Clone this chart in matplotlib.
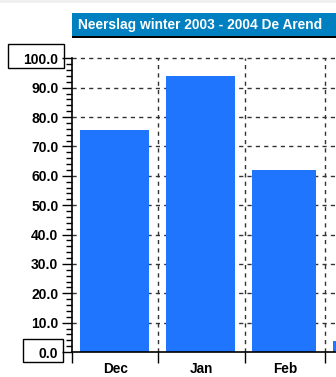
import matplotlib
matplotlib.use("Agg")
import matplotlib.pyplot as plt
from matplotlib.patches import Rectangle

plt.rcParams['font.family'] = ['Liberation Sans', 'DejaVu Sans']

# data
months = ["Dec", "Jan", "Feb", "Mar"]
days = [31, 31, 29, 31]
rain = [75.6, 94.1, 62.0, 3.7]
title = "Neerslag winter 2003 - 2004 De Arend"

W, H = 336, 377
fig = plt.figure(figsize=(W / 100, H / 100), dpi=100)


def fx(px):
    return px / W


def fy(py):
    return 1 - py / H


ax = fig.add_axes([fx(72.3), fy(352), 1 - fx(72.3), (352 - 58.3) / H])

starts = [sum(days[:i]) for i in range(len(days))]
for s, d, v in zip(starts, days, rain):
    ax.bar(s + 2.8, v, width=d - 6.2, align='edge', color='#1f75fe', zorder=2)

ax.set_yticks(range(0, 101, 10))
ax.set_yticklabels([f"{v:.1f}" for v in range(0, 101, 10)])
ax.set_yticks(range(0, 101, 2), minor=True)
ax.tick_params(axis='y', which='major', length=7, width=1, pad=3,
               labelsize=10, color='black')
ax.tick_params(axis='y', which='minor', length=4, width=1, color='black')

edges = starts + [starts[-1] + days[-1]]
ax.set_xticks(edges[:4])
ax.set_xticklabels([])
ax.set_xticks([s + d / 2 for s, d in zip(starts, days)], minor=True)
ax.set_xticklabels(months, minor=True)
ax.tick_params(axis='x', which='major', direction='out', length=8, width=1)
ax.tick_params(axis='x', which='minor', length=0, pad=7, labelsize=9.8)

ax.set_xlim(0, 94.9)
ax.set_ylim(0, 100)

for lab in ax.get_yticklabels() + ax.get_xticklabels(minor=True):
    lab.set_fontweight('bold')

for v in range(10, 101, 10):
    ax.axhline(v, color='#333333', lw=1, ls=(0, (3, 3)), zorder=1, clip_on=False)
for e in edges[1:4]:
    ax.axvline(e, color='#333333', lw=1, ls=(0, (3, 3)), zorder=1)

for s in ['top', 'right']:
    ax.spines[s].set_visible(False)
ax.spines['left'].set_linewidth(1.2)
ax.spines['bottom'].set_linewidth(1.2)

# boxes round first and last tick label
fig.patches.append(Rectangle((fx(7.5), fy(68.3)), fx(56), (68.3 - 44.3) / H,
                             transform=fig.transFigure, fill=False,
                             edgecolor='black', lw=1))
fig.patches.append(Rectangle((fx(23.3), fy(362)), fx(40), (362 - 339) / H,
                             transform=fig.transFigure, fill=False,
                             edgecolor='black', lw=1))

# title bar
fig.patches.append(Rectangle((0, fy(3)), 1, 3 / H, transform=fig.transFigure,
                             color='#f0f0f0', lw=0))
fig.patches.append(Rectangle((fx(72), fy(36)), 1 - fx(72), 23 / H,
                             transform=fig.transFigure, color='#0080c0', lw=0))
fig.patches.append(Rectangle((fx(72), fy(37.5)), 1 - fx(72), 2 / H,
                             transform=fig.transFigure, color='black', lw=0))
fig.text(fx(78), fy(24.5), title, color='white', fontsize=9.9,
         fontweight='bold', va='center', ha='left')

fig.savefig("out.png", dpi=100)
